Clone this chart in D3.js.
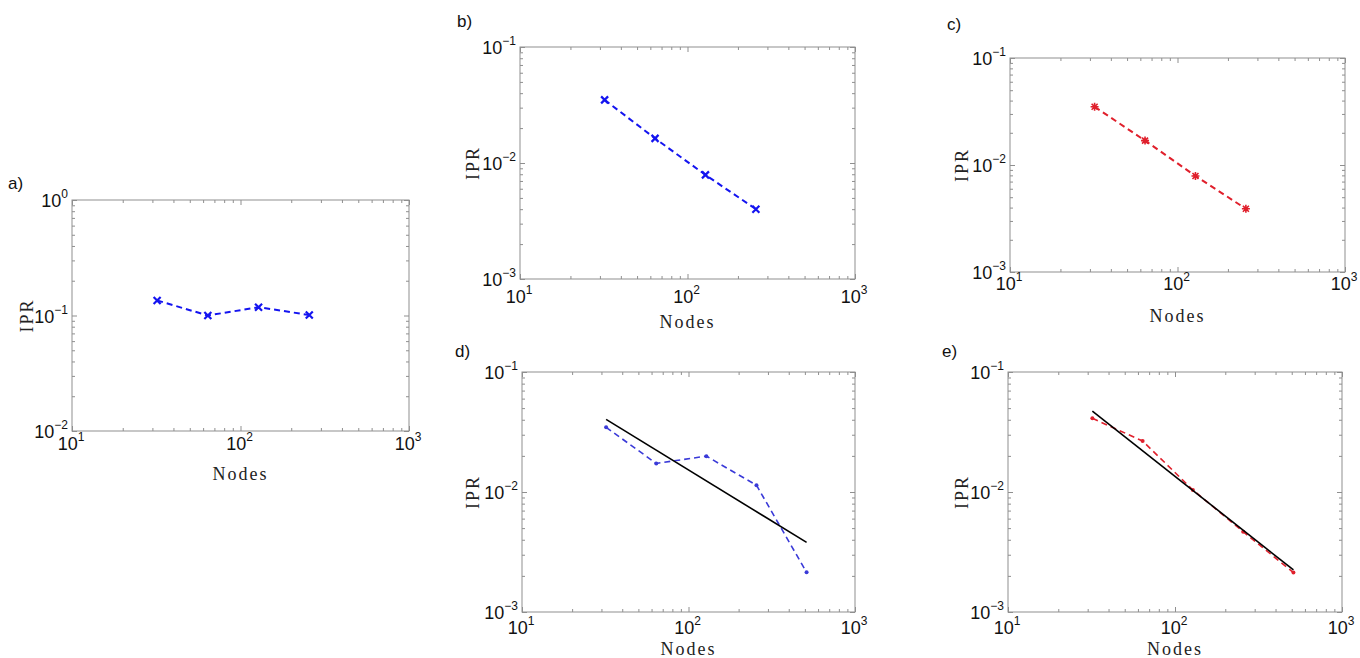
<!DOCTYPE html>
<html><head><meta charset="utf-8">
<script src="https://cdn.jsdelivr.net/npm/d3@7"></script>
<style>body{margin:0;background:#fff}svg{display:block}</style>
</head><body>
<svg id="chart" width="1360" height="658"></svg>
<script>
// ---------------- data ----------------
const nodesA = [32, 64, 128, 256];
const iprA   = [0.135, 0.100, 0.118, 0.101];
const nodesB = [32, 64, 128, 256];
const iprB   = [0.035, 0.0163, 0.0079, 0.0040];
const nodesC = [32, 64, 128, 256];
const iprC   = [0.035, 0.0169, 0.0079, 0.0039];
const nodesD = [32, 64, 128, 256, 512];
const iprD   = [0.0346, 0.0173, 0.0199, 0.0114, 0.00214];
const fitNodesD = [32, 512];
const fitD   = [0.0403, 0.0038];
const nodesE = [32, 64, 128, 256, 512];
const iprE   = [0.0411, 0.0266, 0.0104, 0.00467, 0.00213];
const fitNodesE = [32, 512];
const fitE   = [0.0473, 0.00224];
const xTickExps  = [1, 2, 3];
const yTickExpsA = [-2, -1, 0];
const yTickExpsB = [-3, -2, -1];
const panelLetters = ["a)", "b)", "c)", "d)", "e)"];
const xLabel = "Nodes", yLabel = "IPR";

// ---------------- layout ----------------
const BLUE = "#1414f0", RED = "#e0202c";
const panels = [
  {letter:0, box:[72,200,409,431], yExps:yTickExpsA, tickDy:19, nodesDy:49, iprX:27, lab:[8,189],
   series:[{x:nodesA,y:iprA,color:BLUE,w:2,dash:"6,4",marker:"x"}]},
  {letter:1, box:[520,47,855,279], yExps:yTickExpsB, tickDy:24, nodesDy:49, iprX:473, lab:[457,27],
   series:[{x:nodesB,y:iprB,color:BLUE,w:2,dash:"6,4",marker:"x"}]},
  {letter:2, box:[1010,58,1345,272], yExps:yTickExpsB, tickDy:18, nodesDy:50, iprX:962, lab:[947,30],
   series:[{x:nodesC,y:iprC,color:RED,w:2,dash:"6,4",marker:"*"}]},
  {letter:3, box:[522,372,855,612], yExps:yTickExpsB, tickDy:22, nodesDy:43, iprX:473, lab:[455,357],
   series:[{x:nodesD,y:iprD,color:"#3a3ad8",w:1.6,dash:"6,4",marker:"."},
           {x:fitNodesD,y:fitD,color:"#000",w:1.6,dash:null,marker:null}]},
  {letter:4, box:[1008,372,1342,612], yExps:yTickExpsB, tickDy:22, nodesDy:43, iprX:962, lab:[942,357],
   series:[{x:nodesE,y:iprE,color:RED,w:1.6,dash:"6,4",marker:"."},
           {x:fitNodesE,y:fitE,color:"#000",w:1.6,dash:null,marker:null}]}
];

const svg = d3.select("#chart");
const FRAME = "#8f8f8f";
const TICKFONT = "'Liberation Sans', Arial, sans-serif";
const LABFONT = "'Liberation Serif', 'Times New Roman', serif";

panels.forEach(p => {
  const [x0,y0,x1,y1] = p.box;
  const yDom = [Math.pow(10,p.yExps[0]), Math.pow(10,p.yExps[p.yExps.length-1])];
  const x = d3.scaleLog().domain([10,1000]).range([x0,x1]);
  const y = d3.scaleLog().domain(yDom).range([y1,y0]);
  const g = svg.append("g");

  // frame
  g.append("rect").attr("x",x0).attr("y",y0).attr("width",x1-x0).attr("height",y1-y0)
    .attr("fill","none").attr("stroke",FRAME).attr("stroke-width",1);

  const xt = x.ticks(), yt = y.ticks();
  const isMajor = v => Math.abs(Math.log10(v) - Math.round(Math.log10(v))) < 1e-9;
  const xMaj = xt.filter(isMajor), xMin = xt.filter(v=>!isMajor(v));
  const yMaj = yt.filter(isMajor), yMin = yt.filter(v=>!isMajor(v));

  const addAxis = (axis, tr) => {
    const a = g.append("g").attr("transform",tr).call(axis);
    a.select(".domain").remove();
    a.selectAll("text").remove();
    a.selectAll("line").attr("stroke",FRAME).attr("stroke-width",1);
  };
  [[xMaj,5],[xMin,3]].forEach(([vals,len])=>{
    addAxis(d3.axisBottom(x).tickValues(vals).tickSize(-len).tickFormat(""), `translate(0,${y1})`);
    addAxis(d3.axisTop(x).tickValues(vals).tickSize(-len).tickFormat(""), `translate(0,${y0})`);
  });
  [[yMaj,5],[yMin,3]].forEach(([vals,len])=>{
    addAxis(d3.axisLeft(y).tickValues(vals).tickSize(-len).tickFormat(""), `translate(${x0},0)`);
    addAxis(d3.axisRight(y).tickValues(vals).tickSize(-len).tickFormat(""), `translate(${x1},0)`);
  });

  // x tick labels
  xTickExps.forEach(e => {
    const t = g.append("text").attr("x", x(Math.pow(10,e)) - 1).attr("y", y1 + p.tickDy)
      .attr("text-anchor","middle").attr("font-family",TICKFONT).attr("font-size",18).attr("fill","#111");
    t.append("tspan").text("10");
    t.append("tspan").attr("dy",-9).attr("font-size",12).text(String(e));
  });
  // y tick labels
  p.yExps.forEach(e => {
    const t = g.append("text").attr("x", x0 - 4).attr("y", y(Math.pow(10,e)) + 7)
      .attr("text-anchor","end").attr("font-family",TICKFONT).attr("font-size",18).attr("fill","#111");
    t.append("tspan").text("10");
    t.append("tspan").attr("dy",-9).attr("font-size",12).text(e<0 ? "\u2212"+Math.abs(e) : String(e));
  });

  // axis labels
  g.append("text").attr("x",(x0+x1)/2).attr("y",y1+p.nodesDy).attr("text-anchor","middle")
    .attr("font-family",LABFONT).attr("font-size",18).attr("letter-spacing",2).attr("fill","#222").text(xLabel);
  const ym = y(Math.pow(10,p.yExps[1]));
  g.append("text").attr("transform",`translate(${p.iprX+6},${ym}) rotate(-90)`).attr("text-anchor","middle")
    .attr("font-family",LABFONT).attr("font-size",18).attr("letter-spacing",2).attr("fill","#222").text(yLabel);

  // panel letter
  g.append("text").attr("x",p.lab[0]).attr("y",p.lab[1]).attr("font-family",TICKFONT)
    .attr("font-size",17).attr("fill","#111").text(panelLetters[p.letter]);

  // series
  const clip = "clip"+p.letter;
  svg.append("clipPath").attr("id",clip).append("rect").attr("x",x0).attr("y",y0).attr("width",x1-x0).attr("height",y1-y0);
  p.series.forEach(s => {
    const pts = s.x.map((v,i)=>[v,s.y[i]]);
    const line = d3.line().x(d=>x(d[0])).y(d=>y(d[1]));
    g.append("path").attr("d",line(pts)).attr("fill","none").attr("stroke",s.color)
      .attr("stroke-width",s.w).attr("stroke-dasharray",s.dash).attr("clip-path",`url(#${clip})`);
    if (s.marker) {
      pts.forEach(d => {
        const cx = x(d[0]), cy = y(d[1]);
        if (s.marker === "x") {
          const r = 3.5;
          g.append("path").attr("d",`M${cx-r},${cy-r}L${cx+r},${cy+r}M${cx-r},${cy+r}L${cx+r},${cy-r}`)
            .attr("stroke",s.color).attr("stroke-width",2.2);
        } else if (s.marker === "*") {
          const r = 4, q = 3;
          g.append("path").attr("d",`M${cx-r},${cy}L${cx+r},${cy}M${cx},${cy-r}L${cx},${cy+r}M${cx-q},${cy-q}L${cx+q},${cy+q}M${cx-q},${cy+q}L${cx+q},${cy-q}`)
            .attr("stroke",s.color).attr("stroke-width",1.6);
        } else if (s.marker === ".") {
          g.append("circle").attr("cx",cx).attr("cy",cy).attr("r",2).attr("fill",s.color);
        }
      });
    }
  });
});
</script>
</body></html>
